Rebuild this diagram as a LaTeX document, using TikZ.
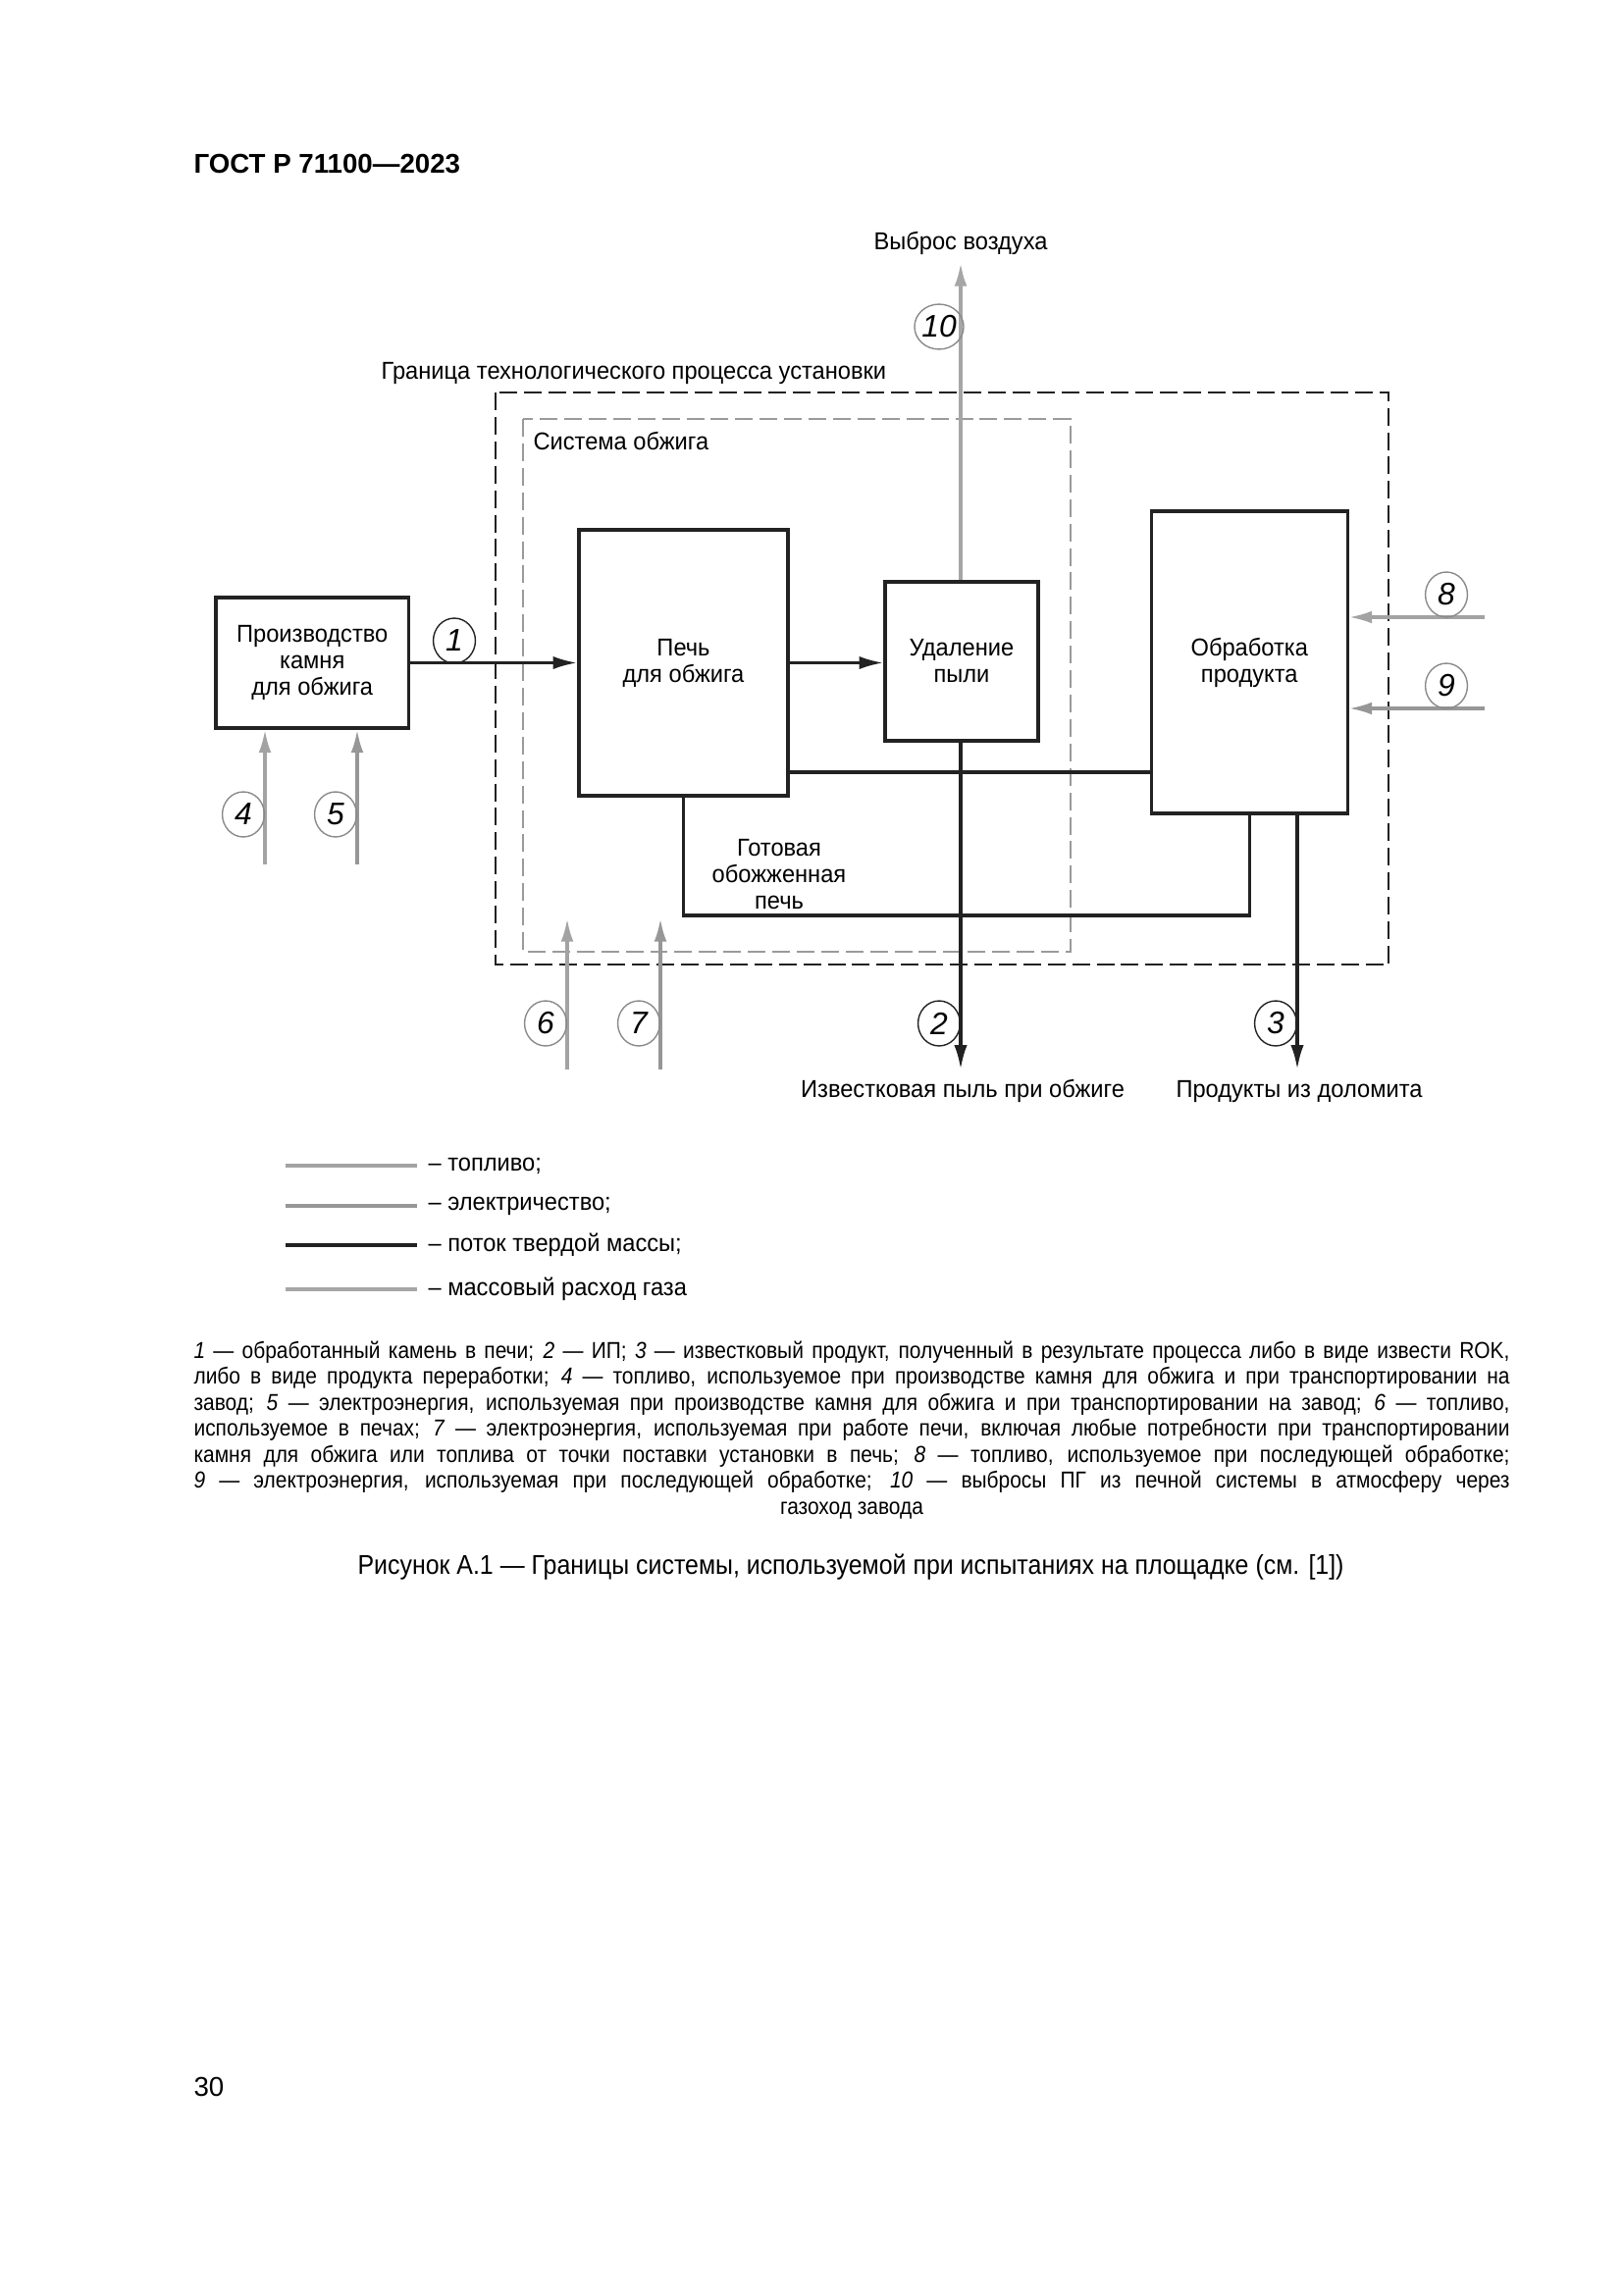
\documentclass[tikz,border=0pt]{standalone}
\usepackage{fontspec}
\setmainfont{Liberation Sans}
\newfontfamily\diagfont{Liberation Sans}[FakeStretch=0.95]
\newfontfamily\capfont{Liberation Sans}[FakeStretch=0.89]
\newfontfamily\titfont{Liberation Sans}[FakeStretch=0.90]
\usetikzlibrary{arrows.meta,shapes.geometric,fit}
\definecolor{ink}{HTML}{222222}
\definecolor{fuelc}{HTML}{A3A3A3}
\definecolor{elecc}{HTML}{979797}
\definecolor{gasc}{HTML}{A6A6A6}
\definecolor{ringc}{HTML}{8A8A8A}
\definecolor{sysc}{HTML}{9A9A9A}
\begin{document}
\begin{tikzpicture}[x=0.127mm,y=-0.127mm,
  box/.style={draw=ink,line width=1.1pt,inner sep=0pt},
  flow/.style={draw=ink,line width=1.2pt},
  tipk/.style={-{Latex[length=9pt,width=4.8pt]}},
  fuel/.style={draw=fuelc,line width=1.2pt,-{Latex[length=8.5pt,width=4.6pt]}},
  elec/.style={draw=elecc,line width=1.2pt,-{Latex[length=8.5pt,width=4.6pt]}},
  gas/.style={draw=gasc,line width=1.2pt,-{Latex[length=8.5pt,width=4.6pt]}},
  num/.style={ellipse,draw=ringc,line width=0.5pt,minimum width=15.5pt,minimum height=16.6pt,inner sep=0pt,font=\fontsize{11.5pt}{12pt}\selectfont\itshape},
  numk/.style={num,draw=ink},
  lbl/.style={font=\diagfont\fontsize{9pt}{9.75pt}\selectfont,inner sep=0pt,align=center},
  legline/.style={line width=1.5pt},
  outerb/.style={draw=ink,line width=0.9pt,dash pattern=on 6.5pt off 2.5pt},
  innerb/.style={draw=sysc,line width=0.9pt,dash pattern=on 6.5pt off 2.5pt},
]
\useasboundingbox (0,0) rectangle (1654,2339);
\fill[white] (0,0) rectangle (1654,2339);

% header
\node[anchor=base west,inner sep=0pt,font=\fontsize{10pt}{12pt}\selectfont\bfseries] (hdr) at (197,177) {ГОСТ Р 71100—2023};

% boundaries
\draw[outerb] (505,400) rectangle (1415,983);
\draw[innerb] (533,427) rectangle (1091,970);
\node[lbl,anchor=base west] (lbound) at (388,387) {Граница технологического процесса установки};
\node[lbl,anchor=base west] (lsys) at (543,459) {Система обжига};

% boxes
\node[box,fit={(220,609) (416.5,742)}] (A) {};
\node[box,fit={(590,540) (803,811)}] (B) {};
\node[box,fit={(902,593) (1058,755)}] (C) {};
\node[box,fit={(1173.5,521) (1373,829)}] (D) {};
\node[lbl] (At) at (A.center) {Производство\\камня\\для обжига};
\node[lbl] (Bt) at (B.center) {Печь\\для обжига};
\node[lbl] (Ct) at (C.center) {Удаление\\пыли};
\node[lbl] (Dt) at (D.center) {Обработка\\продукта};

% coordinates
\coordinate (yBD) at (0,787);
\coordinate (yR) at (0,933);
\coordinate (out2) at (979,1090);
\coordinate (out3) at (1322,1090);
\coordinate (in4) at (270,881);
\coordinate (in5) at (364,881);
\coordinate (in6) at (578,1090);
\coordinate (tip6) at (578,936);
\coordinate (in7) at (673,1090);
\coordinate (tip7) at (673,936);
\coordinate (in8) at (1513,629);
\coordinate (in9) at (1513,722);
\coordinate (top10) at (979,268);

% solid mass flows
\draw[flow,tipk] (A.east) -- (B.west);
\draw[flow,tipk] (B.east) -- (B.east -| C.west);
\draw[flow] (B.east |- yBD) -- (D.west |- yBD);
\draw[flow,tipk] (C.south -| out2) -- (out2);
\draw[flow] (B.south) -- (B.south |- yR) -- (D.south |- yR) -- (D.south);
\draw[flow,tipk] (out3 |- D.south) -- (out3);

% energy / fuel / gas
\draw[fuel] (in4) -- (in4 |- A.south);
\draw[elec] (in5) -- (in5 |- A.south);
\draw[fuel] (in6) -- (tip6);
\draw[elec] (in7) -- (tip7);
\draw[fuel] (in8) -- (in8 -| D.east);
\draw[elec] (in9) -- (in9 -| D.east);
\draw[gas] (C.north -| top10) -- (top10);

% numbered circles
\node[numk] (c1) at (463,653) {1};
\node[numk] (c2) at (957,1043) {2};
\node[numk] (c3) at (1300,1043) {3};
\node[num] (c4) at (248,830) {4};
\node[num] (c5) at (342,830) {5};
\node[num] (c6) at (556,1043) {6};
\node[num] (c7) at (651,1043) {7};
\node[num] (c8) at (1474,606) {8};
\node[num] (c9) at (1474,699) {9};
\node[num] (c10) at (957,333) {10};

% labels
\node[lbl,anchor=base] (lair) at (979,255) {Выброс воздуха};
\node[lbl] (lready) at (794,891) {Готовая\\обожженная\\печь};
\node[lbl,anchor=base] (ldust) at (981,1118) {Известковая пыль при обжиге};
\node[lbl,anchor=base] (lprod) at (1324,1118) {Продукты из доломита};

% legend
\coordinate (lg1) at (291,1188);
\coordinate (lg2) at (291,1229);
\coordinate (lg3) at (291,1269);
\coordinate (lg4) at (291,1314);
\coordinate (lge1) at (425,1188);
\coordinate (lge2) at (425,1229);
\coordinate (lge3) at (425,1269);
\coordinate (lge4) at (425,1314);
\draw[legline,draw=fuelc] (lg1) -- (lge1);
\draw[legline,draw=elecc] (lg2) -- (lge2);
\draw[legline,draw=ink] (lg3) -- (lge3);
\draw[legline,draw=gasc] (lg4) -- (lge4);
\node[lbl,anchor=west] (t1) at (436,1188) {– топливо;};
\node[lbl,anchor=west] (t2) at (436,1229) {– электричество;};
\node[lbl,anchor=west] (t3) at (436,1269) {– поток твердой массы;};
\node[lbl,anchor=west] (t4) at (436,1314) {– массовый расход газа};

% explanation
\node[anchor=north west,inner sep=0pt,text width=170.3mm,align=justify,font=\capfont\fontsize{8.5pt}{9.6pt}\selectfont] (expl) at (197,1366) {%
\textit{1} — обработанный камень в печи; \textit{2} — ИП; \textit{3} — известковый продукт, полученный в результате процесса либо в виде извести ROK,\linebreak
либо в виде продукта переработки; \textit{4} — топливо, используемое при производстве камня для обжига и при транспортировании на\linebreak
завод; \textit{5} — электроэнергия, используемая при производстве камня для обжига и при транспортировании на завод; \textit{6} — топливо,\linebreak
используемое в печах; \textit{7} — электроэнергия, используемая при работе печи, включая любые потребности при транспортировании\linebreak
камня для обжига или топлива от точки поставки установки в печь; \textit{8} — топливо, используемое при последующей обработке;\linebreak
\textit{9} — электроэнергия, используемая при последующей обработке; \textit{10} — выбросы ПГ из печной системы в атмосферу через\parfillskip=0pt\par
\parfillskip=0pt plus 1fil\centering газоход завода\par};

% title
\node[anchor=base,inner sep=0pt,font=\titfont\fontsize{10pt}{12pt}\selectfont] (title) at (867,1604) {Рисунок А.1 — Границы системы, используемой при испытаниях на площадке (см. [1])};

% page number
\node[anchor=base west,inner sep=0pt,font=\fontsize{10pt}{12pt}\selectfont] (pg) at (197,2136) {30};
\end{tikzpicture}
\end{document}
